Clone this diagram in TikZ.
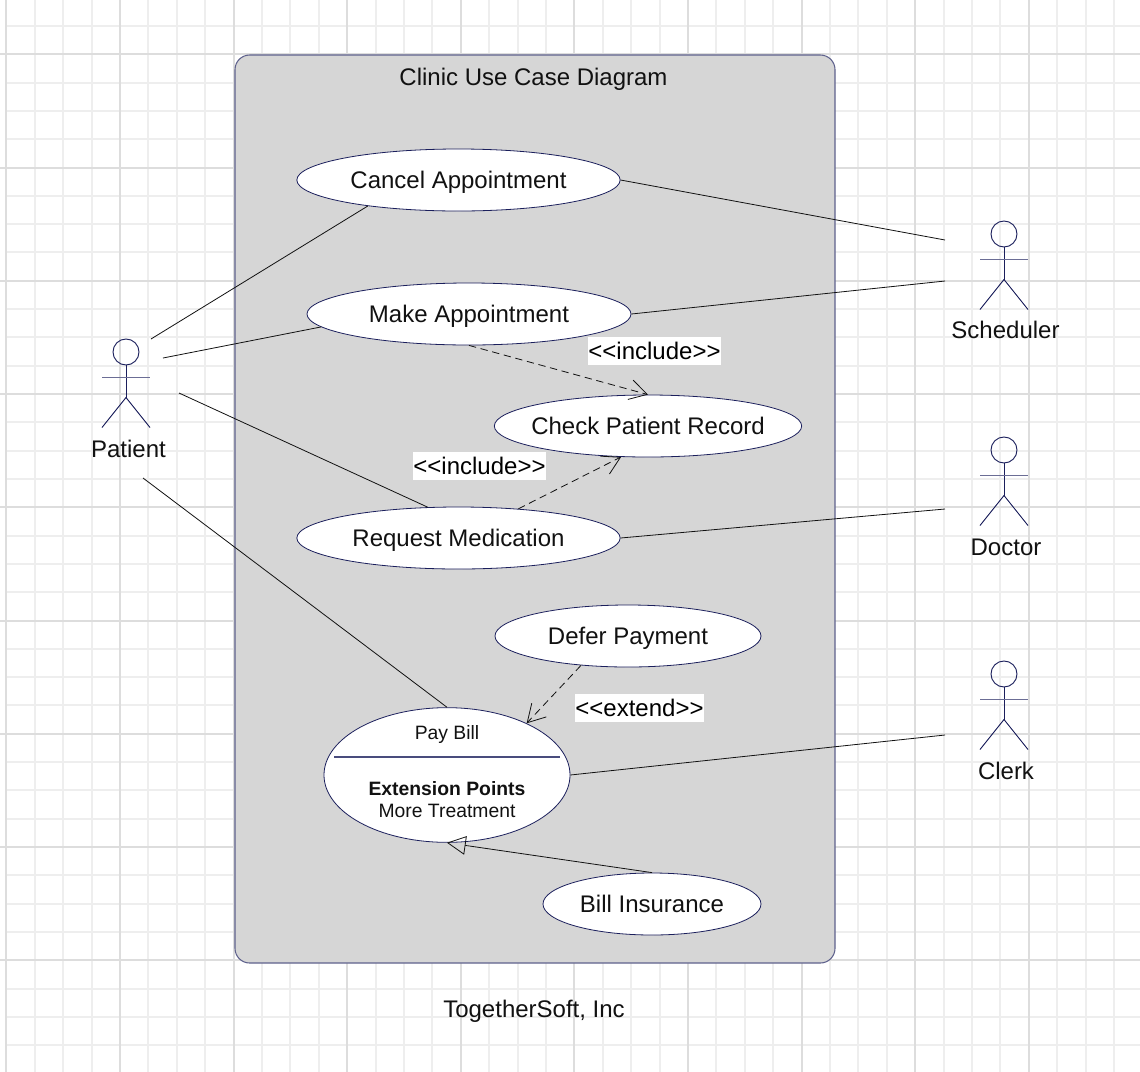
\documentclass[tikz,border=0pt]{standalone}
\usepackage{fontspec}
\setmainfont{Liberation Sans}
\usetikzlibrary{shapes.geometric,arrows.meta}
\definecolor{minorgrid}{HTML}{EEEEEE}
\definecolor{majorgrid}{HTML}{DDDDDD}
\definecolor{panel}{HTML}{D6D6D6}
\definecolor{navy}{HTML}{1B1F5C}
\definecolor{ink}{HTML}{111111}
\newcommand{\uctext}[1]{\makebox[0pt]{#1}}
\tikzset{
  minorline/.style={draw=minorgrid,line width=1.5pt},
  majorline/.style={draw=majorgrid,line width=1.5pt},
  usecase/.style={ellipse,draw=navy,fill=white,line width=0.6pt,inner sep=0pt,text height=13pt,text depth=0pt,font=\fontsize{18}{20}\selectfont,text=ink},
  lbl/.style={inner sep=0pt,text height=13pt,text depth=0pt,font=\fontsize{18}{20}\selectfont,text=ink},
  small/.style={inner sep=0pt,text height=10.5pt,text depth=0pt,font=\fontsize{14.5}{16}\selectfont,text=ink},
  stereo/.style={fill=white,inner sep=0pt,minimum height=21pt,font=\fontsize{18}{20}\selectfont,text=black},
  assoc/.style={draw=ink,line width=0.6pt},
  dep/.style={draw=ink,line width=0.6pt,dash pattern=on 5.5pt off 3.5pt,-{Straight Barb[length=13pt,width=15pt,line width=0.6pt]}},
  gen/.style={draw=ink,line width=0.6pt,-{Triangle[open,length=14pt,width=14pt,line width=0.6pt]}},
  limb/.style={draw=navy,line width=0.7pt},
  armline/.style={draw=navy!65,line width=0.9pt},
  pics/actor/.style={code={
    \draw[limb] (0,-13) circle[radius=13];
    \draw[limb] (0,0) -- (0,32.5);
    \draw[armline] (-24,12.5) -- (24,12.5);
    \draw[limb] (-24,62.5) -- (0,32.5) -- (24,62.5);
  }}
}
\begin{document}
\begin{tikzpicture}[x=0.75pt,y=-0.75pt]
\useasboundingbox (0,0) rectangle (1140,1072);
\fill[white] (0,0) rectangle (1140,1072);
% grid
\foreach \i in {0,...,40}{
  \pgfmathsetmacro{\gx}{round(6.4+28.4*\i)}
  \draw[minorline] (\gx,0) -- (\gx,1072);
}
\foreach \i in {0,...,37}{
  \pgfmathsetmacro{\gy}{round(26+28.31*\i)}
  \draw[minorline] (5,\gy) -- (1140,\gy);
}
\foreach \i in {0,...,9}{
  \pgfmathsetmacro{\gx}{round(6.4+113.6*\i)}
  \draw[majorline] (\gx,0) -- (\gx,1072);
}
\foreach \i in {0,...,8}{
  \pgfmathsetmacro{\gy}{round(54.3+113.25*\i)}
  \draw[majorline] (0,\gy) -- (1140,\gy);
}
% boundary
\node[draw=navy!70,fill=panel,line width=0.8pt,rounded corners=11pt,minimum width=450pt,minimum height=681pt,inner sep=0pt] (boundary) at (535,509) {};
\node[lbl] (title) at (533.5,77) {Clinic Use Case Diagram};
\node[lbl] (footer) at (534,1009) {TogetherSoft, Inc};
% use cases
\node[usecase,minimum width=242.5pt,minimum height=46.5pt] (cancel) at (458.5,180) {\uctext{Cancel Appointment}};
\node[usecase,minimum width=243pt,minimum height=46.5pt] (make) at (469,314) {\uctext{Make Appointment}};
\node[usecase,minimum width=230.5pt,minimum height=46.5pt] (check) at (648,426) {\uctext{Check Patient Record}};
\node[usecase,minimum width=242.5pt,minimum height=46.5pt] (request) at (458.5,538) {\uctext{Request Medication}};
\node[usecase,minimum width=199.5pt,minimum height=46.5pt] (defer) at (628,636) {\uctext{Defer Payment}};
\node[usecase,minimum width=184.5pt,minimum height=101pt] (pay) at (447,775) {};
\node[usecase,minimum width=163.5pt,minimum height=46.5pt] (insurance) at (652,904) {\raisebox{0pt}{\uctext{Bill Insurance}}};
% pay bill content
\node[small] (paytitle) at (447,732.5) {Pay Bill};
\coordinate (sepl) at (334,757);
\coordinate (sepr) at (560,757);
\draw[draw=navy!80,line width=0.9pt] (sepl) -- (sepr);
\node[small,font=\fontsize{14.5}{16}\selectfont\bfseries] (payext) at (447,788) {Extension Points};
\node[small] (paymore) at (447,810) {More Treatment};
% actors
\pic at (126,365) {actor};
\pic at (1004,247) {actor};
\pic at (1004,463) {actor};
\pic at (1004,687) {actor};
\node[lbl] (patient) at (128.5,449) {Patient};
\node[lbl] (scheduler) at (1005.5,330) {Scheduler};
\node[lbl] (doctor) at (1006,547) {Doctor};
\node[lbl] (clerk) at (1006,771) {Clerk};
% free ends at the actors
\coordinate (p1) at (151,339);
\coordinate (p2) at (163,358);
\coordinate (p3) at (179,393);
\coordinate (p4) at (143,478);
\coordinate (s1) at (945,240);
\coordinate (s2) at (945,281);
\coordinate (d1) at (945,509);
\coordinate (c1) at (945,735);
% associations
\draw[assoc] (p1) -- (cancel.196.3);
\draw[assoc] (p2) -- (make.185.7);
\draw[assoc] (p3) -- (request.135.1);
\draw[assoc] (p4) -- (pay.north);
\draw[assoc] (cancel.east) -- (s1);
\draw[assoc] (make.east) -- (s2);
\draw[assoc] (request.east) -- (d1);
\draw[assoc] (pay.east) -- (c1);
% dependencies
\draw[dep] (make.south) -- (check.north);
\draw[dep] (request.26.3) -- (check.229.6);
\draw[dep] (defer.212.3) -- (pay.33.8);
\draw[gen] (insurance.north) -- (pay.south);
% stereotypes
\node[stereo,minimum width=100pt] (inc1) at (654.5,351) {<{}<include>{}>};
\node[stereo,minimum width=100pt] (inc2) at (479.5,466) {<{}<include>{}>};
\node[stereo,minimum width=97pt] (ext) at (639.5,708) {<{}<extend>{}>};
\end{tikzpicture}
\end{document}
